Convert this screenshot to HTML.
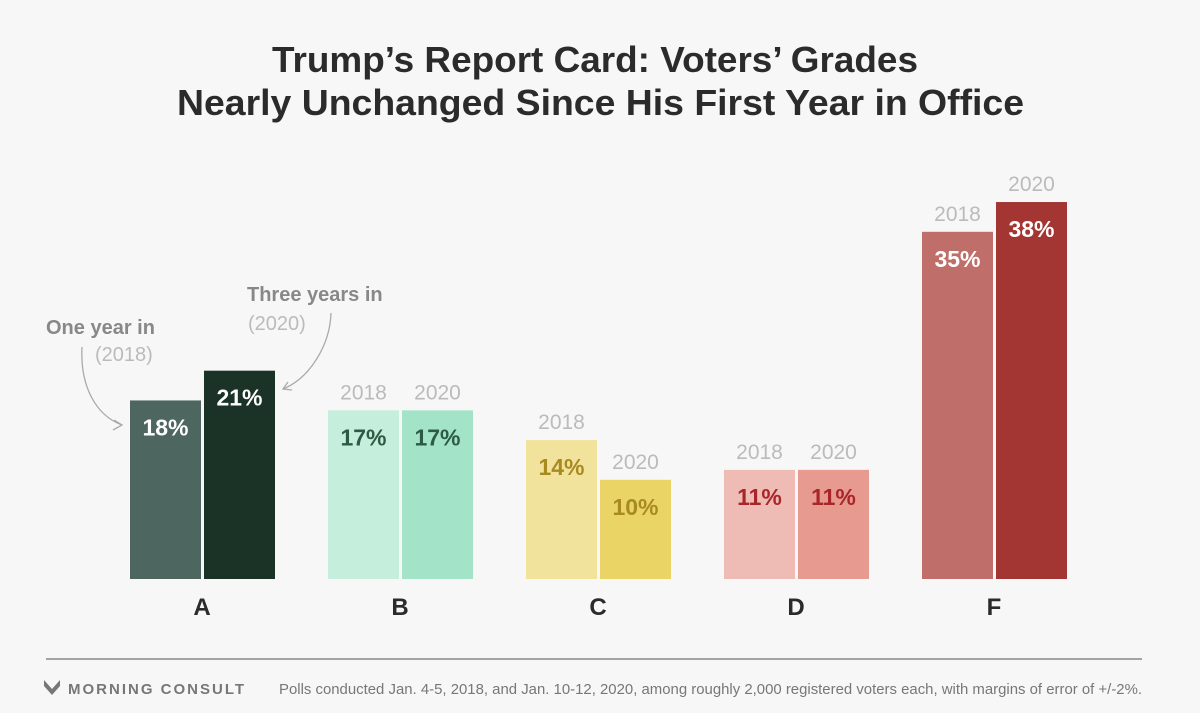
<!DOCTYPE html>
<html><head><meta charset="utf-8"><style>
body{margin:0;background:#f7f7f7;font-family:"Liberation Sans",sans-serif}
svg{display:block}
</style></head><body>
<svg width="1200" height="713" viewBox="0 0 1200 713">
<rect width="1200" height="713" fill="#f7f7f7"/>
<text x="272" y="72" textLength="646" lengthAdjust="spacingAndGlyphs" font-size="36" font-weight="bold" fill="#2b2b2b">Trump’s Report Card: Voters’ Grades</text>
<text x="177" y="115" textLength="847" lengthAdjust="spacingAndGlyphs" font-size="36" font-weight="bold" fill="#2b2b2b">Nearly Unchanged Since His First Year in Office</text>
<g id="bars"></g>
<text x="46" y="334" font-size="20" font-weight="bold" fill="#888">One year in</text>
<text x="95" y="361" font-size="20" fill="#bbb">(2018)</text>
<text x="247" y="301" font-size="20" font-weight="bold" fill="#888">Three years in</text>
<text x="248" y="330" font-size="20" fill="#bbb">(2020)</text>
<path d="M82 347 C80 385 95 415 122 425" fill="none" stroke="#aaa" stroke-width="1.3"/>
<path d="M114 420 L122 425 L113 430" fill="none" stroke="#aaa" stroke-width="1.3"/>
<path d="M331 313 C330 345 310 378 283 389" fill="none" stroke="#aaa" stroke-width="1.3"/>
<path d="M288 382 L283 389 L292 390" fill="none" stroke="#aaa" stroke-width="1.3"/>
<line x1="46" y1="659" x2="1142" y2="659" stroke="#888" stroke-width="1.5"/>
<path d="M44 680 L52 689 L60 680 L60 686 L52 695 L44 686 Z" fill="#777"/>
<text x="68" y="694" font-size="15" font-weight="bold" letter-spacing="2" fill="#777">MORNING CONSULT</text>
<text x="279" y="694" textLength="863" lengthAdjust="spacingAndGlyphs" font-size="15" fill="#777">Polls conducted Jan. 4-5, 2018, and Jan. 10-12, 2020, among roughly 2,000 registered voters each, with margins of error of +/-2%.</text>
</svg>
<script>
const grades=["A","B","C","D","F"];
const v2018=[18,17,14,11,35];
const v2020=[21,17,10,11,38];
const c2018=["#4d6660","#c6eedc","#f1e29c","#efbcb5","#c06e6a"];
const c2020=["#1b3326","#a3e4c8","#ebd466","#e79b90","#a33533"];
const tc=["#fff","#2d5a43","#a88a20","#a8262a","#fff"];
const base=579,scale=9.92,bw=71;
const ns="http://www.w3.org/2000/svg";
const g=document.getElementById('bars');
function y(v){return base-v*scale;}
function mk(t,a){const e=document.createElementNS(ns,t);for(const k in a)e.setAttribute(k,a[k]);g.appendChild(e);return e;}
grades.forEach((gr,i)=>{
 const x0=130+i*198;
 [[v2018[i],c2018[i],x0,"2018"],[v2020[i],c2020[i],x0+74,"2020"]].forEach(([v,c,x,yr])=>{
  const r=mk('rect',{x:x,y:y(v),width:bw,height:v*scale,fill:c});
  
  
  const t=mk('text',{x:x+bw/2,y:y(v)+35,'text-anchor':'middle','font-size':23,'font-weight':'bold',fill:tc[i]});
  t.textContent=v+'%';
  
  
  if(i>0){
   const l=mk('text',{x:x+bw/2,y:y(v)-11,'text-anchor':'middle','font-size':21,fill:'#bbb'});
   l.textContent=yr;
   
   
  }
 });
 const gl=mk('text',{x:x0+72,y:615,'text-anchor':'middle','font-size':24,'font-weight':'bold',fill:'#2b2b2b'});
 gl.textContent=gr;
 
 
});
</script>
</body></html>
